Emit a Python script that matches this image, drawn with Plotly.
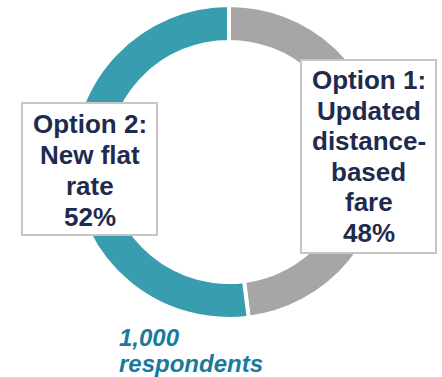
import plotly.graph_objects as go

# Survey results: preferred fare structure
options = ["Option 1:<br>Updated distance-based fare", "Option 2:<br>New flat rate"]
shares = [48, 52]
colors = ["#A6A6A6", "#389DAF"]
label_lines = [
    ["Option 1:", "Updated", "distance-", "based", "fare"],
    ["Option 2:", "New flat", "rate"],
]
respondents = 1000

W, H = 442, 377


def px(x):
    return x / W


def py(y):
    return 1 - y / H


# ring geometry (pixels from top-left)
cx, cy, r = 229, 162, 157

fig = go.Figure(
    go.Pie(
        labels=options,
        values=shares,
        sort=False,
        direction="clockwise",
        rotation=0,
        hole=0.765,
        marker=dict(colors=colors, line=dict(color="white", width=4)),
        textinfo="none",
        hoverinfo="label+percent",
        domain=dict(x=[px(cx - r), px(cx + r)], y=[py(cy + r), py(cy - r)]),
        showlegend=False,
    )
)

navy = "#1F2B4E"
font_main = dict(family="Liberation Sans, Arial, sans-serif", size=26, color=navy)

# label boxes: (x0, y0, x1, y1), centre x, first line y, line step
boxes = [
    dict(rect=(301, 60, 436, 253), x=368.5, y0=80, step=30.6),
    dict(rect=(22, 103, 157, 235), x=89.5, y0=124, step=31),
]

shapes = []
annotations = []
for i, b in enumerate(boxes):
    x0, y0, x1, y1 = b["rect"]
    shapes.append(
        dict(
            type="rect", xref="paper", yref="paper",
            x0=px(x0), x1=px(x1), y0=py(y1), y1=py(y0),
            line=dict(color="#C6C6C6", width=2), fillcolor="white", layer="above",
        )
    )
    lines = label_lines[i] + [f"{shares[i]}%"]
    for k, t in enumerate(lines):
        annotations.append(
            dict(
                text=f"<b>{t}</b>", xref="paper", yref="paper",
                x=px(b["x"]), y=py(b["y0"] + k * b["step"]),
                xanchor="center", yanchor="middle", showarrow=False,
                font=font_main,
            )
        )

teal_text = dict(family="Liberation Sans, Arial, sans-serif", size=24, color="#1A7A9B")
for k, t in enumerate([f"{respondents:,}", "respondents"]):
    annotations.append(
        dict(
            text=f"<b><i>{t}</i></b>", xref="paper", yref="paper",
            x=px(117), y=py(337 + k * 26),
            xanchor="left", yanchor="middle", showarrow=False,
            font=teal_text,
        )
    )

fig.update_layout(
    width=W, height=H,
    margin=dict(l=0, r=0, t=0, b=0),
    paper_bgcolor="white", plot_bgcolor="white",
    shapes=shapes, annotations=annotations,
)

fig.write_html("out.html")
